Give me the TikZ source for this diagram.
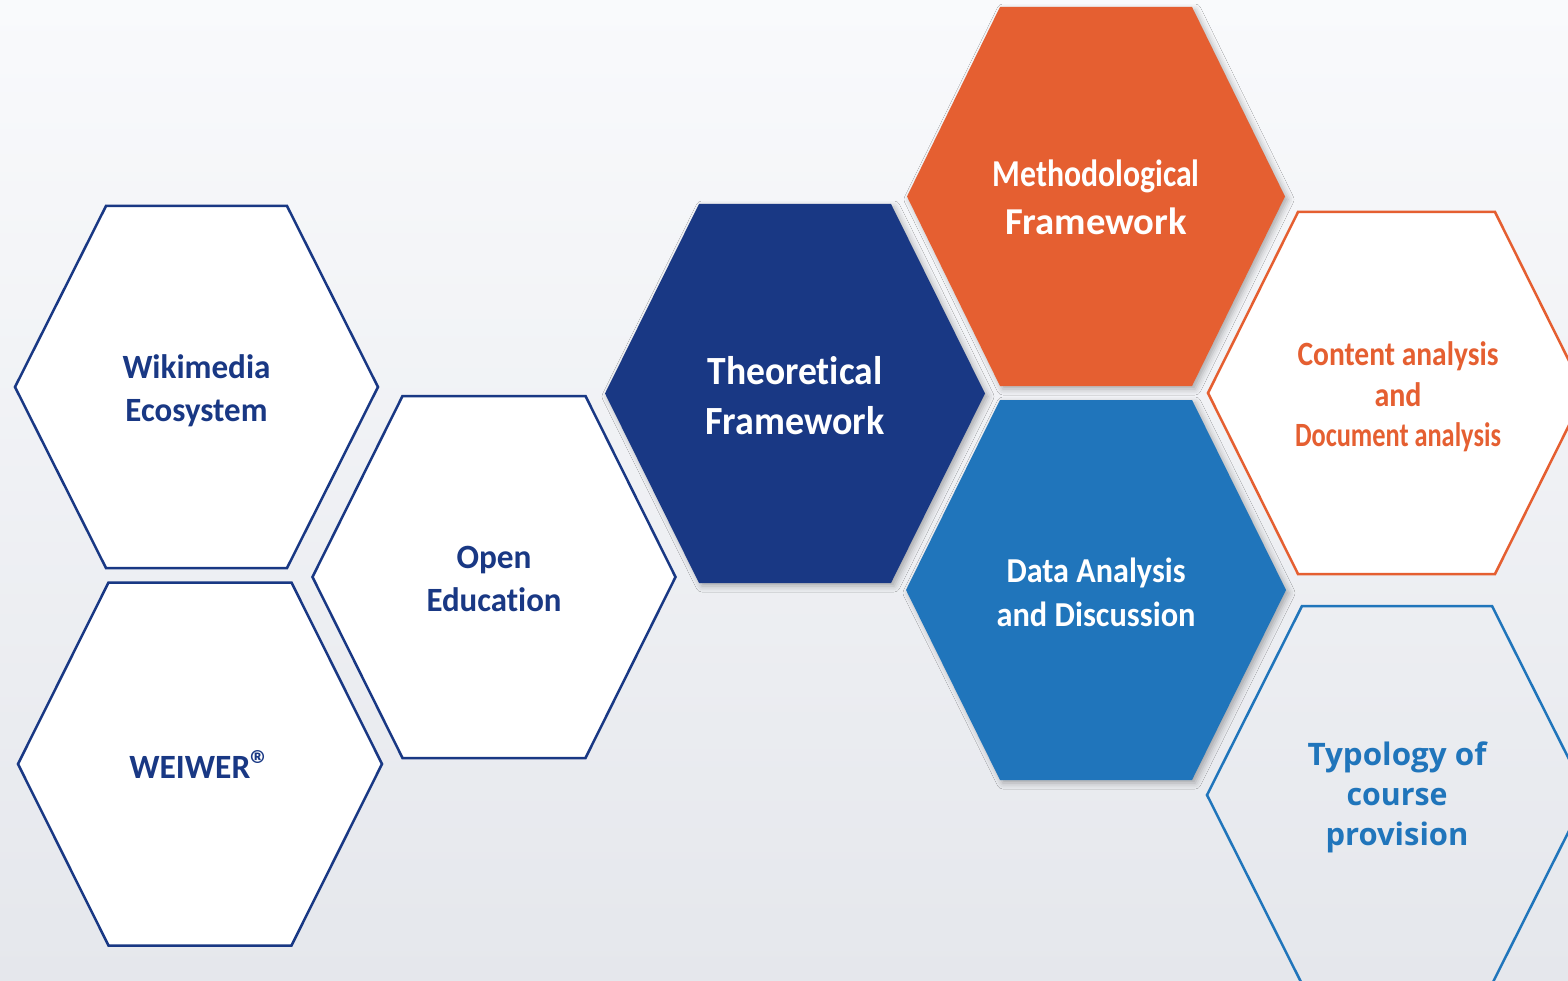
\documentclass[tikz,border=0pt]{standalone}
\usepackage{fontspec}
\usepackage{graphicx}
\usetikzlibrary{shadows.blur}
\newfontfamily\calfont{Carlito}[Ligatures=NoCommon]
\newfontfamily\osfont{Open Sans}
\definecolor{navy}{RGB}{25,56,132}
\definecolor{orng}{RGB}{229,95,49}
\definecolor{mblue}{RGB}{32,117,187}
\definecolor{bgtop}{RGB}{249,250,252}
\definecolor{bgbot}{RGB}{229,231,236}
% #1 style, #2 cx, #3 cy, #4 half width, #5 half top edge, #6 half height
\newcommand\hexa[6]{\path[#1] ({#2-#4},{#3}) -- ({#2-#5},{#3-#6}) -- ({#2+#5},{#3-#6}) -- ({#2+#4},{#3}) -- ({#2+#5},{#3+#6}) -- ({#2-#5},{#3+#6}) -- cycle;}
\newcommand\fitline[2]{\resizebox{#1pt}{\height}{#2}}
\begin{document}
\begin{tikzpicture}[x=1pt,y=-1pt,
  outl/.style={line width=2.5pt, line join=miter},
  solidhex/.style={blur shadow={shadow xshift=3pt, shadow yshift=-3pt, shadow blur radius=6pt, shadow opacity=30}},
  lbl/.style={align=center, inner sep=0pt, font=\calfont\bfseries}]
\useasboundingbox (0,0) rectangle (1568,981);
\shade[top color=bgtop, bottom color=bgbot] (0,0) rectangle (1568,981);
\clip (0,0) rectangle (1568,981);

% outlined hexagons
\hexa{outl, draw=navy, fill=white}{196.5}{387}{181.5}{90.5}{181}
\hexa{outl, draw=navy, fill=white}{200}{764}{182}{91.5}{181.5}
\hexa{outl, draw=navy, fill=white}{494}{577}{181.5}{91.5}{181}
\hexa{outl, draw=orng, fill=white}{1396.5}{393}{188.5}{98.5}{181}
\hexa{outl, draw=mblue}{1397}{795}{190}{95}{189}

% filled hexagons
\hexa{solidhex, fill=navy}{795}{393.5}{190}{96}{189.5}
\hexa{solidhex, fill=orng}{1096}{196.5}{189}{96}{189.5}
\hexa{solidhex, fill=mblue}{1096}{590}{190}{96}{190}

% labels
\node[lbl, text=navy, font=\calfont\bfseries\fontsize{34}{43}\selectfont] (wiki) at (196.5,391)
  {\fitline{148}{Wikimedia}\\\fitline{142}{Ecosystem}};
\node[lbl, text=navy, font=\calfont\bfseries\fontsize{34}{43}\selectfont] (open) at (494,579)
  {\fitline{75}{Open}\\\fitline{135}{Education}};
\node[lbl, text=navy, font=\calfont\bfseries\fontsize{34}{43}\selectfont] (weiwer) at (200,765)
  {\fitline{121}{WEIWER}{\fontsize{40}{40}\selectfont ®}};
\node[lbl, text=white, font=\calfont\bfseries\fontsize{40}{50}\selectfont] (theo) at (795,395.5)
  {\fitline{175}{Theoretical}\\\fitline{179}{Framework}};
\node[lbl, text=white, font=\calfont\bfseries\fontsize{38}{48}\selectfont] (meth) at (1096,197)
  {\fitline{207}{Methodological}\\\fitline{182}{Framework}};
\node[lbl, text=white, font=\calfont\bfseries\fontsize{35}{44}\selectfont] (data) at (1096,592)
  {\fitline{179}{Data Analysis}\\\fitline{199}{and Discussion}};
\node[lbl, text=orng, font=\calfont\bfseries\fontsize{34}{40.5}\selectfont] (content) at (1398,397)
  {\fitline{201}{Content analysis}\\\fitline{47}{and}\\\fitline{206}{Document analysis}};
\node[lbl, text=mblue, font=\osfont\bfseries\fontsize{31}{40}\selectfont] (typo) at (1397,797)
  {\fitline{179}{Typology of}\\\fitline{101}{course}\\\fitline{143}{provision}};
\end{tikzpicture}
\end{document}
